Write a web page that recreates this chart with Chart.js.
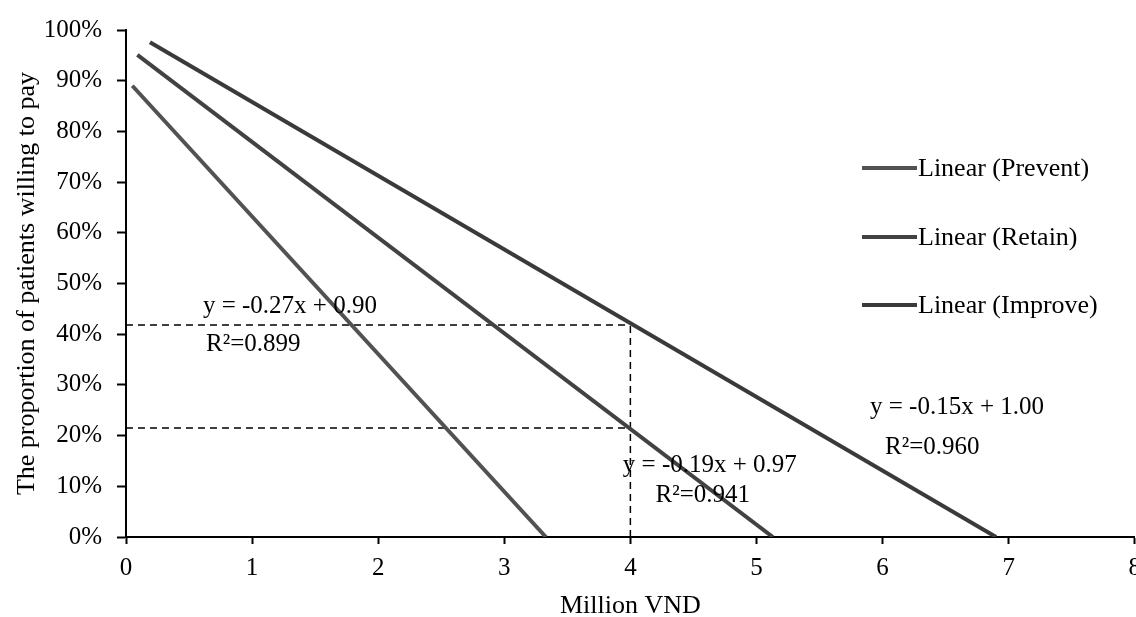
<!DOCTYPE html>
<html>
<head>
<meta charset="utf-8">
<script src="https://cdn.jsdelivr.net/npm/chart.js@4"></script>
<style>
  html, body { margin: 0; padding: 0; background: #fff; overflow: hidden; }
  #wrap { position: absolute; left: 0; top: 0; width: 1150px; height: 617px; }
</style>
</head>
<body>
<div id="wrap"><canvas id="wtpChart"></canvas></div>
<script>
// fitted lines, start and end point of each (Million VND, % willing to pay)
const seriesNames = ['Linear (Prevent)', 'Linear (Retain)', 'Linear (Improve)'];
const preventX = [0.05, 3.33];
const preventY = [89.0, 0];
const retainX = [0.09, 5.13];
const retainY = [95.1, 0];
const improveX = [0.19, 6.9];
const improveY = [97.6, 0];

// dashed guides at 4 million VND
const guideX = 4;
const guideLevels = [41.8, 21.5];

// equation labels: text, x, y (data units)
const eqTexts = ['y = -0.27x + 0.90', 'R\u00b2=0.899', 'y = -0.19x + 0.97', 'R\u00b2=0.941', 'y = -0.15x + 1.00', 'R\u00b2=0.960'];
const eqX = [0.61, 0.635, 3.94, 4.2, 5.9, 6.02];
const eqY = [45.5, 38.0, 14.1, 8.2, 25.5, 17.6];

const serif = '"Liberation Serif", "Times New Roman", serif';
const lineColors = ['#525252', '#424242', '#3a3a3a'];

function pts(xs, ys) {
  return xs.map((x, i) => ({ x: x, y: ys[i] }));
}

const datasets = [
  { label: seriesNames[0], data: pts(preventX, preventY) },
  { label: seriesNames[1], data: pts(retainX, retainY) },
  { label: seriesNames[2], data: pts(improveX, improveY) }
].map((d, i) => Object.assign(d, {
  showLine: true, borderColor: lineColors[i], backgroundColor: lineColors[i],
  borderWidth: 4, pointRadius: 0
}));

// guides: horizontal from the y axis to x=4, then the vertical down to 0
guideLevels.forEach(lv => {
  datasets.push({ label: 'guide', data: [{ x: 0, y: lv }, { x: guideX, y: lv }] });
});
datasets.push({ label: 'guide', data: [{ x: guideX, y: 0 }, { x: guideX, y: guideLevels[0] }] });
datasets.forEach(d => {
  if (d.label === 'guide') {
    Object.assign(d, { showLine: true, borderColor: '#000', borderWidth: 1.5, borderDash: [7, 5], pointRadius: 0 });
  }
});

// legend sits inside the plot, drawn by hand
const legendPlugin = {
  id: 'insideLegend',
  afterDraw(chart) {
    const ctx = chart.ctx;
    const rows = [168, 237, 305];
    ctx.save();
    ctx.font = '26px ' + serif;
    ctx.textBaseline = 'middle';
    ctx.fillStyle = '#000';
    seriesNames.forEach((name, i) => {
      ctx.strokeStyle = lineColors[i];
      ctx.lineWidth = 4;
      ctx.beginPath();
      ctx.moveTo(862, rows[i]);
      ctx.lineTo(917, rows[i]);
      ctx.stroke();
      ctx.fillText(name, 918, rows[i] + 1);
    });
    ctx.restore();
  }
};

const equationPlugin = {
  id: 'equations',
  afterDatasetsDraw(chart) {
    const ctx = chart.ctx;
    const xs = chart.scales.x, ys = chart.scales.y;
    ctx.save();
    ctx.font = '25px ' + serif;
    ctx.textBaseline = 'middle';
    ctx.fillStyle = '#000';
    eqTexts.forEach((t, i) => {
      ctx.fillText(t, xs.getPixelForValue(eqX[i]), ys.getPixelForValue(eqY[i]));
    });
    ctx.restore();
  }
};

const config = {
  type: 'scatter',
  data: { datasets: datasets },
  options: {
    responsive: true,
    maintainAspectRatio: false,
    animation: false,
    layout: { padding: { top: 27, left: 0, right: 0, bottom: 0 } },
    plugins: {
      legend: { display: false },
      tooltip: { enabled: false }
    },
    scales: {
      x: {
        type: 'linear', min: 0, max: 8,
        border: { color: '#000', width: 2 },
        grid: { drawOnChartArea: false, color: '#000', tickLength: 7, tickWidth: 2 },
        ticks: { stepSize: 1, color: '#000', padding: 9, font: { family: serif, size: 25 } },
        title: { display: true, text: 'Million VND', color: '#000', padding: { top: 0, bottom: 0 },
          font: { family: serif, size: 26, lineHeight: 0.8 } },
        afterFit(scale) { scale.height = 80; }
      },
      y: {
        type: 'linear', min: 0, max: 100,
        border: { color: '#000', width: 2 },
        grid: { drawOnChartArea: false, color: '#000', tickLength: 9, tickWidth: 2 },
        ticks: { stepSize: 10, color: '#000', padding: 15, font: { family: serif, size: 25 },
          callback: v => v + '%' },
        title: { display: true, text: 'The proportion of patients willing to pay', color: '#000',
          padding: { top: 12, bottom: 0 }, font: { family: serif, size: 26 } },
        afterFit(scale) { scale.width = 126; }
      }
    }
  },
  plugins: [equationPlugin, legendPlugin]
};

const wtpChart = new Chart(document.getElementById('wtpChart'), config);
</script>
</body>
</html>
